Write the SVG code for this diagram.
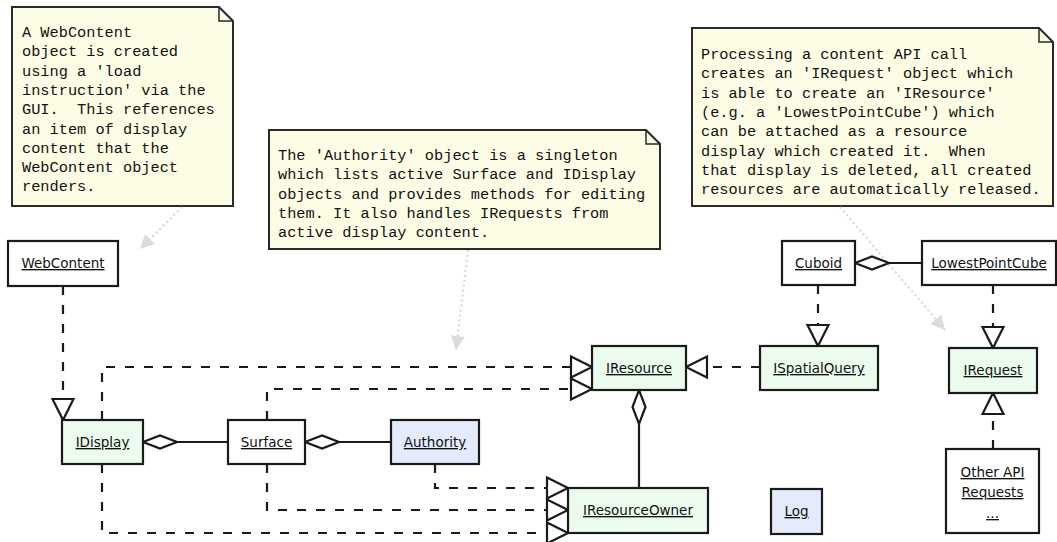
<svg xmlns="http://www.w3.org/2000/svg" width="1057" height="542" viewBox="0 0 1057 542">
  <style>
    .note { fill: #fdfde6; stroke: #2a2a2a; stroke-width: 2; }
    .fold { fill: none; stroke: #2a2a2a; stroke-width: 1.5; }
    .ntext { font-family: "Liberation Mono", "Courier New", monospace; font-size: 15.3px; fill: #111; }
    .box { stroke: #1a1a1a; stroke-width: 2.2; }
    .plain { fill: #ffffff; }
    .iface { fill: #ebfbee; }
    .single { fill: #e5ebfc; }
    .label { font-family: "DejaVu Sans", Verdana, sans-serif; font-size: 13.5px; fill: #111; text-anchor: middle; text-decoration: underline; }
    .dep { fill: none; stroke: #1a1a1a; stroke-width: 2.2; stroke-dasharray: 9 10; }
    .agg { fill: none; stroke: #1a1a1a; stroke-width: 2.2; }
    .anchor { fill: none; stroke: #d4d4d4; stroke-width: 2; stroke-dasharray: 2 3; }
  </style>
  <defs>
    <marker id="realize" markerUnits="userSpaceOnUse" markerWidth="26" markerHeight="26" refX="22" refY="11" orient="auto" overflow="visible">
      <path d="M1,0.5 L22,11 L1,21.5 Z" fill="#ffffff" stroke="#1a1a1a" stroke-width="2.2" stroke-dasharray="none"/>
    </marker>
    <marker id="diamond" markerUnits="userSpaceOnUse" markerWidth="36" markerHeight="16" refX="0" refY="7" orient="auto" overflow="visible">
      <path d="M0,7 L17,0.5 L34,7 L17,13.5 Z" fill="#ffffff" stroke="#1a1a1a" stroke-width="2.2" stroke-dasharray="none"/>
    </marker>
    <marker id="pointer" markerUnits="userSpaceOnUse" markerWidth="16" markerHeight="16" refX="14" refY="7" orient="auto" overflow="visible">
      <path d="M0,0 L14,7 L0,14 Z" fill="#dcdcdc" stroke="none"/>
    </marker>
  </defs>

  <!-- comment notes -->
  <g id="note-webcontent">
    <path class="note" d="M12,7 H219 L233,21 V206 H12 Z"/>
    <path class="fold" d="M219,7 V21 H233"/>
    <text class="ntext">
      <tspan x="22" y="37">A WebContent</tspan>
      <tspan x="22" y="56.3">object is created</tspan>
      <tspan x="22" y="75.6">using a 'load</tspan>
      <tspan x="22" y="94.9">instruction' via the</tspan>
      <tspan x="22" y="114.2" xml:space="preserve">GUI.  This references</tspan>
      <tspan x="22" y="133.5">an item of display</tspan>
      <tspan x="22" y="152.8">content that the</tspan>
      <tspan x="22" y="172.1">WebContent object</tspan>
      <tspan x="22" y="191.4">renders.</tspan>
    </text>
  </g>

  <g id="note-authority">
    <path class="note" d="M269,130 H646 L660,144 V249 H269 Z"/>
    <path class="fold" d="M646,130 V144 H660"/>
    <text class="ntext">
      <tspan x="278" y="160">The 'Authority' object is a singleton</tspan>
      <tspan x="278" y="179.3">which lists active Surface and IDisplay</tspan>
      <tspan x="278" y="198.6">objects and provides methods for editing</tspan>
      <tspan x="278" y="217.9">them. It also handles IRequests from</tspan>
      <tspan x="278" y="237.2">active display content.</tspan>
    </text>
  </g>

  <g id="note-irequest">
    <path class="note" d="M692,28 H1039 L1053,42 V206 H692 Z"/>
    <path class="fold" d="M1039,28 V42 H1053"/>
    <text class="ntext">
      <tspan x="701" y="59">Processing a content API call</tspan>
      <tspan x="701" y="78.3">creates an 'IRequest' object which</tspan>
      <tspan x="701" y="97.6">is able to create an 'IResource'</tspan>
      <tspan x="701" y="116.9">(e.g. a 'LowestPointCube') which</tspan>
      <tspan x="701" y="136.2">can be attached as a resource</tspan>
      <tspan x="701" y="155.5" xml:space="preserve">display which created it.  When</tspan>
      <tspan x="701" y="174.8">that display is deleted, all created</tspan>
      <tspan x="701" y="194.1">resources are automatically released.</tspan>
    </text>
  </g>

  <!-- connectors -->
  <g id="connectors">
    <!-- note anchors -->
    <path class="anchor" d="M182,207 L140,249" marker-end="url(#pointer)"/>
    <path class="anchor" d="M468,250 L456,350" marker-end="url(#pointer)"/>
    <path class="anchor" d="M840,207 L945,330" marker-end="url(#pointer)"/>

    <!-- realizations -->
    <path class="dep" d="M63,286 V420" marker-end="url(#realize)"/>
    <path class="dep" d="M102,420 V367 H592" marker-end="url(#realize)"/>
    <path class="dep" d="M267,420 V389 H592" marker-end="url(#realize)"/>
    <path class="dep" d="M102,464 V533 H568" marker-end="url(#realize)"/>
    <path class="dep" d="M267,464 V510 H568" marker-end="url(#realize)"/>
    <path class="dep" d="M435,464 V488 H568" marker-end="url(#realize)"/>
    <path class="dep" d="M760,367 H686" marker-end="url(#realize)"/>
    <path class="dep" d="M818,285 V346" marker-end="url(#realize)"/>
    <path class="dep" d="M993,285 V348" marker-end="url(#realize)"/>
    <path class="dep" d="M993,449 V393" marker-end="url(#realize)"/>

    <!-- aggregations -->
    <path class="agg" d="M143,442 H228" marker-start="url(#diamond)"/>
    <path class="agg" d="M305,442 H391" marker-start="url(#diamond)"/>
    <path class="agg" d="M639,390 V488" marker-start="url(#diamond)"/>
    <path class="agg" d="M855,263 H922" marker-start="url(#diamond)"/>
  </g>

  <!-- classes -->
  <g id="WebContent">
    <rect class="box plain" x="8" y="241" width="110" height="45"/>
    <text class="label" x="63" y="268">WebContent</text>
  </g>
  <g id="Cuboid">
    <rect class="box plain" x="782" y="241" width="73" height="44"/>
    <text class="label" x="818.5" y="268">Cuboid</text>
  </g>
  <g id="LowestPointCube">
    <rect class="box plain" x="922" y="241" width="134" height="44"/>
    <text class="label" x="989" y="268">LowestPointCube</text>
  </g>
  <g id="IResource">
    <rect class="box iface" x="592" y="346" width="94" height="44"/>
    <text class="label" x="639" y="373">IResource</text>
  </g>
  <g id="ISpatialQuery">
    <rect class="box iface" x="760" y="346" width="118" height="44"/>
    <text class="label" x="819" y="373">ISpatialQuery</text>
  </g>
  <g id="IRequest">
    <rect class="box iface" x="949" y="348" width="88" height="45"/>
    <text class="label" x="993" y="375">IRequest</text>
  </g>
  <g id="IDisplay">
    <rect class="box iface" x="62" y="420" width="81" height="44"/>
    <text class="label" x="102.5" y="447">IDisplay</text>
  </g>
  <g id="Surface">
    <rect class="box plain" x="228" y="420" width="77" height="44"/>
    <text class="label" x="266.5" y="447">Surface</text>
  </g>
  <g id="Authority">
    <rect class="box single" x="391" y="420" width="88" height="44"/>
    <text class="label" x="435" y="447">Authority</text>
  </g>
  <g id="IResourceOwner">
    <rect class="box iface" x="568" y="488" width="140" height="45"/>
    <text class="label" x="638" y="515">IResourceOwner</text>
  </g>
  <g id="Log">
    <rect class="box single" x="771" y="489" width="51" height="45"/>
    <text class="label" x="796.5" y="516">Log</text>
  </g>
  <g id="OtherAPIRequests">
    <rect class="box plain" x="946" y="449" width="93" height="84"/>
    <text class="label" x="992.5" y="477">Other API</text>
    <text class="label" x="992.5" y="497">Requests</text>
    <text class="label" x="992.5" y="518">...</text>
  </g>
</svg>
